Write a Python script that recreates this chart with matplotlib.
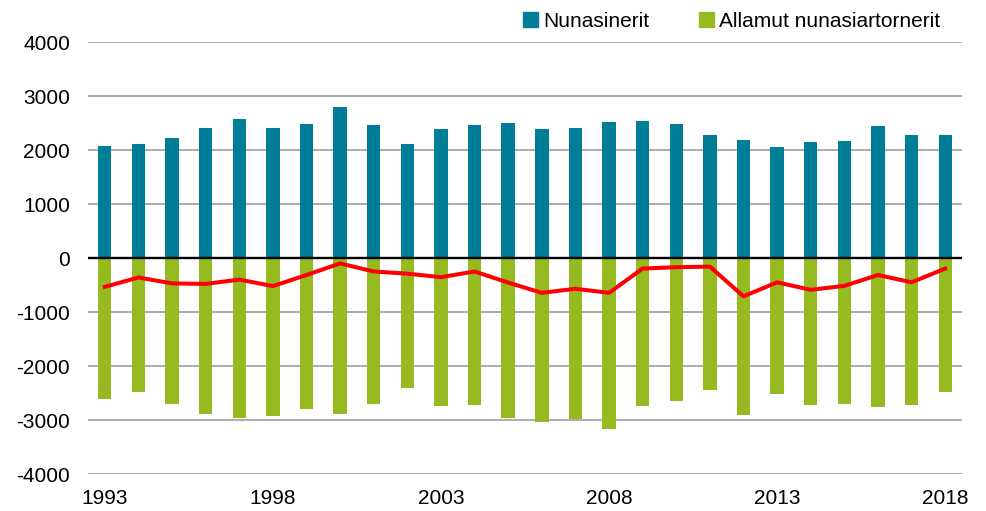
import matplotlib
matplotlib.use("Agg")
import matplotlib.pyplot as plt
from matplotlib.patches import Patch

years = list(range(1993, 2019))
nunasinerit = [2080, 2110, 2225, 2410, 2575, 2410, 2480, 2790, 2460, 2120, 2380, 2470, 2505,
               2395, 2410, 2525, 2545, 2480, 2275, 2185, 2060, 2140, 2175, 2445, 2280, 2285]
allamut = [-2620, -2480, -2700, -2890, -2970, -2935, -2805, -2885, -2710, -2415, -2740, -2720, -2960,
           -3045, -2980, -3175, -2740, -2650, -2440, -2900, -2510, -2730, -2695, -2765, -2730, -2480]
net = [-535, -360, -470, -480, -400, -520, -315, -100, -250, -290, -355, -250, -455,
       -645, -570, -645, -195, -170, -160, -710, -450, -590, -515, -315, -450, -195]
xtick_years = [1993, 1998, 2003, 2008, 2013, 2018]
yticks = [-4000, -3000, -2000, -1000, 0, 1000, 2000, 3000, 4000]
labels = ["Nunasinerit", "Allamut nunasiartornerit"]

teal = "#007E98"
green = "#95BB20"

plt.rcParams["font.family"] = ["Liberation Sans", "DejaVu Sans"]

fig = plt.figure(figsize=(9.86, 5.11), dpi=100)
ax = fig.add_axes([0.0892, 0.0724, 0.9757 - 0.0892, 0.9178 - 0.0724])

ax.bar(years, nunasinerit, width=0.4, color=teal, zorder=2)
ax.bar(years, allamut, width=0.4, color=green, zorder=2)
ax.plot(years, net, color="#FF0000", lw=2.9, zorder=4, solid_joinstyle="round")

ax.set_xlim(1992.5, 2018.5)
ax.set_ylim(-4000, 4000)
ax.set_yticks(yticks)
ax.set_yticklabels([str(v) for v in yticks])
ax.set_xticks(xtick_years)
ax.set_xticklabels([str(v) for v in xtick_years])
ax.tick_params(axis="both", length=0, labelsize=15, colors="black")
ax.tick_params(axis="y", pad=13)
ax.tick_params(axis="x", pad=11)
ax.yaxis.grid(True, color="#A6A6A6", lw=1.3, zorder=0)
ax.set_axisbelow(True)
for s in ax.spines.values():
    s.set_visible(False)
ax.axhline(0, color="black", lw=1.7, zorder=3)

handles = [Patch(color=teal), Patch(color=green)]
fig.legend(handles, labels, loc="center", bbox_to_anchor=(0.742, 0.958), ncol=2,
           frameon=False, fontsize=15, handlelength=0.7, handleheight=0.7,
           handletextpad=0.25, columnspacing=2.4, borderaxespad=0)

fig.savefig("out.png", dpi=100)
